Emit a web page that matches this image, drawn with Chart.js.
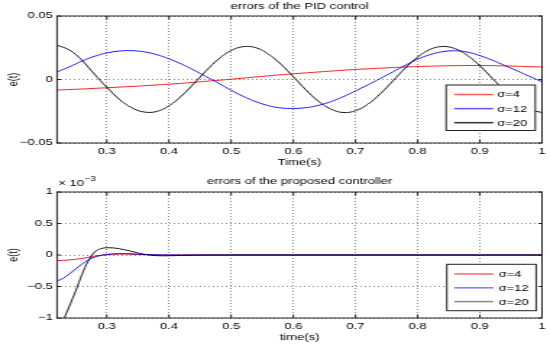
<!DOCTYPE html>
<html><head><meta charset="utf-8">
<script src="https://cdn.jsdelivr.net/npm/chart.js@4/dist/chart.umd.min.js"></script>
<style>
html,body{margin:0;padding:0;background:#fff;width:550px;height:346px;overflow:hidden}
canvas{position:absolute;left:0}
</style></head><body>
<canvas id="c1" width="380" height="173" style="width:550px;height:173px;top:0px"></canvas>
<canvas id="c2" width="380" height="173" style="width:550px;height:173px;top:173px"></canvas>
<script>
// ---------- data ----------
const timeTop = [0.22,0.24,0.26,0.28,0.30,0.32,0.34,0.36,0.38,0.40,0.42,0.44,0.46,0.48,0.50,0.52,0.54,0.56,0.58,0.60,
                 0.62,0.64,0.66,0.68,0.70,0.72,0.74,0.76,0.78,0.80,0.82,0.84,0.86,0.88,0.90,0.92,0.94,0.96,0.98,1.00];
const pidSigma4 = [-0.0083,-0.0079,-0.0075,-0.0070,-0.0065,-0.0060,-0.0055,-0.0049,-0.0043,-0.0037,-0.0030,-0.0022,-0.0014,-0.0006,0.0002,
                   0.0011,0.0020,0.0029,0.0037,0.0045,0.0052,0.0059,0.0066,0.0073,0.0079,0.0084,0.0089,0.0094,0.0098,0.0102,
                   0.0105,0.0107,0.0109,0.0110,0.0110,0.0109,0.0107,0.0104,0.0101,0.0099];
const pidSigma12 = [0.0060,0.0100,0.0145,0.0182,0.0209,0.0224,0.0227,0.0218,0.0196,0.0163,0.0122,0.0074,0.0022,-0.0030,-0.0085,
                    -0.0134,-0.0175,-0.0206,-0.0224,-0.0228,-0.0222,-0.0204,-0.0175,-0.0136,-0.0090,-0.0042,0.0008,0.0060,0.0112,0.0160,
                    0.0196,0.0219,0.0226,0.0216,0.0188,0.0152,0.0110,0.0068,0.0024,-0.0018];
const pidSigma20 = [0.0270,0.0232,0.0152,0.0042,-0.0060,-0.0155,-0.0222,-0.0256,-0.0252,-0.0207,-0.0130,-0.0033,0.0070,0.0162,0.0228,
                    0.0259,0.0250,0.0200,0.0120,0.0022,-0.0080,-0.0170,-0.0232,-0.0260,-0.0246,-0.0194,-0.0112,-0.0012,0.0090,0.0177,
                    0.0237,0.0260,0.0243,0.0190,0.0108,0.0010,-0.0090,-0.0176,-0.0236,-0.0260];

const timeBottom = [0.22,0.23,0.24,0.25,0.26,0.27,0.28,0.29,0.30,0.31,0.32,0.33,0.34,0.35,0.36,0.37,0.38,0.39,0.40,0.42,0.45,0.50,0.60,0.70,0.80,0.90,1.00];
// values in units of 1e-3
const propSigma4 = [-0.090,-0.085,-0.078,-0.068,-0.055,-0.038,-0.018,-0.003,0.007,0.012,0.014,0.014,0.012,0.009,0.006,0.003,0.001,0,0,0,0,0,0,0,0,0,0];
const propSigma12 = [-0.410,-0.370,-0.300,-0.220,-0.145,-0.080,-0.035,-0.008,0.008,0.018,0.022,0.022,0.019,0.013,0.008,0.004,0.002,0.001,0,0,0,0,0,0,0,0,0];
const propSigma20 = [-1.270,-1.040,-0.810,-0.570,-0.310,-0.100,0.045,0.098,0.116,0.113,0.100,0.080,0.058,0.033,0.012,-0.002,-0.010,-0.013,-0.012,-0.007,-0.002,0,0,0,0,0,0];

const xTicks = [0.3,0.4,0.5,0.6,0.7,0.8,0.9,1];
const yTicksTop = [-0.05,0,0.05];
const yTicksBottom = [-1,-0.5,0,0.5,1];
const seriesLabels = ['σ=4','σ=12','σ=20'];
const chartTitles = ['errors of the PID control','errors of the proposed controller'];
const xTitles = ['Time(s)','time(s)'];
const yTitle = 'e(t)';
const exponentText = ['× 10', '−3'];

// ---------- styling ----------
const FONT = "'Liberation Sans', Arial, Helvetica, sans-serif";
Chart.defaults.font.family = FONT;
Chart.defaults.font.size = 9;
Chart.defaults.color = '#000';
const lineColors = ['#ff0000','#0000ff','#000000'];
const gridColor = 'rgba(0,0,0,0.45)';
const fmt = v => String(v).replace('-', '−');

const framePlugin = {
  id: 'frame',
  afterDatasetsDraw(chart) {
    const {ctx, chartArea: a, scales} = chart;
    ctx.save();
    ctx.strokeStyle = '#222';
    ctx.lineWidth = 1;
    ctx.setLineDash([]);
    ctx.strokeRect(a.left, a.top, a.right - a.left, a.bottom - a.top);
    ctx.beginPath();
    scales.x.ticks.forEach(t => {
      const x = scales.x.getPixelForValue(t.value);
      ctx.moveTo(x, a.bottom); ctx.lineTo(x, a.bottom - 3.5);
      ctx.moveTo(x, a.top); ctx.lineTo(x, a.top + 3.5);
    });
    scales.y.ticks.forEach(t => {
      const y = scales.y.getPixelForValue(t.value);
      ctx.moveTo(a.left, y); ctx.lineTo(a.left + 2.6, y);
      ctx.moveTo(a.right, y); ctx.lineTo(a.right - 2.6, y);
    });
    ctx.stroke();
    ctx.restore();
  }
};

const boxLegendPlugin = {
  id: 'boxLegend',
  afterDraw(chart, args, o) {
    const ctx = chart.ctx;
    ctx.save();
    ctx.fillStyle = '#fff';
    ctx.fillRect(o.x, o.y, o.w, o.h);
    ctx.strokeStyle = '#222';
    ctx.lineWidth = 1;
    ctx.strokeRect(o.x, o.y, o.w, o.h);
    chart.data.datasets.forEach((ds, i) => {
      const y = o.y + o.first + i * o.gap;
      ctx.strokeStyle = o.colors[i];
      ctx.lineWidth = 1.5;
      ctx.beginPath();
      ctx.moveTo(o.x + o.l1, y);
      ctx.lineTo(o.x + o.l2, y);
      ctx.stroke();
      ctx.fillStyle = '#000';
      ctx.font = '9px ' + FONT;
      ctx.textBaseline = 'middle';
      ctx.textAlign = 'left';
      ctx.fillText(ds.label, o.x + o.tx, y + 0.5);
    });
    ctx.restore();
  }
};

const exponentPlugin = {
  id: 'exponent',
  afterDraw(chart, args, o) {
    if (!o || !o.show) return;
    const {ctx, chartArea: a} = chart;
    ctx.save();
    ctx.fillStyle = '#000';
    ctx.textBaseline = 'middle';
    ctx.textAlign = 'left';
    ctx.font = '9px ' + FONT;
    ctx.fillText(exponentText[0], a.left + 0.8, a.top - 8);
    const w = ctx.measureText(exponentText[0]).width;
    ctx.font = '7px ' + FONT;
    ctx.fillText(exponentText[1], a.left + 0.8 + w + 0.3, a.top - 13);
    ctx.restore();
  }
};

function makeChart(id, c) {
  const series = c.series;
  return new Chart(document.getElementById(id), {
    type: 'line',
    data: {
      datasets: series.map((s, i) => ({
        label: seriesLabels[i],
        data: c.t.map((t, j) => ({x: t, y: s[j]})),
        borderColor: lineColors[i],
        borderWidth: 0.9,
        pointRadius: 0,
        fill: false,
        tension: c.tension,
        cubicInterpolationMode: c.mode,
        order: 3 - i
      }))
    },
    options: {
      responsive: false,
      animation: false,
      devicePixelRatio: 1,
      events: [],
      layout: {padding: {top: 0, right: 3.4, left: 0, bottom: 0}},
      plugins: {
        legend: {display: false},
        tooltip: {enabled: false},
        title: {display: true, text: c.title, fullSize: false, color: '#000',
                font: {size: 9, weight: 'normal'}, padding: c.titlePad},
        boxLegend: c.legend,
        exponent: {show: c.exp}
      },
      scales: {
        x: {
          type: 'linear', min: 0.22, max: 1,
          afterBuildTicks: s => { s.ticks = xTicks.map(v => ({value: v})); },
          afterFit: s => { s.height = c.xh; },
          ticks: {padding: 3, maxRotation: 0, autoSkip: false, callback: v => fmt(v)},
          grid: {color: gridColor, lineWidth: 1, drawTicks: false},
          border: {display: false, dash: [1, 2]},
          title: {display: true, text: c.xTitle, font: {size: 9}, padding: {top: c.xtp, bottom: c.xtp}}
        },
        y: {
          type: 'linear', min: c.ymin, max: c.ymax,
          afterBuildTicks: s => { s.ticks = c.yTicks.map(v => ({value: v})); },
          afterFit: s => { s.width = 39.4; },
          ticks: {padding: 3, autoSkip: false, callback: v => fmt(v)},
          grid: {color: gridColor, lineWidth: 1, drawTicks: false},
          border: {display: false, dash: [1, 2]},
          title: {display: true, text: yTitle, font: {size: 9}, padding: {top: 4.5, bottom: 4.5}}
        }
      }
    },
    plugins: [framePlugin, boxLegendPlugin, exponentPlugin]
  });
}

makeChart('c1', {
  t: timeTop, series: [pidSigma4, pidSigma12, pidSigma20],
  tension: 0.4, mode: 'default',
  title: chartTitles[0], titlePad: {top: 1.6, bottom: 3.6},
  xTitle: xTitles[0], xh: 30, xtp: 5.1,
  ymin: -0.05, ymax: 0.05, yTicks: yTicksTop, exp: false,
  legend: {x: 308.2, y: 85, w: 61.6, h: 45.5, first: 9.5, gap: 14.1, l1: 5.6, l2: 32.6, tx: 35.3,
           colors: ['#ff5a5a', '#5a5aff', '#333333']}
});

makeChart('c2', {
  t: timeBottom, series: [propSigma4, propSigma12, propSigma20],
  tension: 0.4, mode: 'monotone',
  title: chartTitles[1], titlePad: {top: 2.9, bottom: 5.3},
  xTitle: xTitles[1], xh: 28, xtp: 3.1,
  ymin: -1, ymax: 1, yTicks: yTicksBottom, exp: true,
  legend: {x: 308.7, y: 91.3, w: 61.7, h: 46.4, first: 9.7, gap: 13.8, l1: 5.2, l2: 32.2, tx: 35.8,
           colors: ['#ff6a6a', '#7a7aff', '#8a8a8a']}
});
</script>
</body></html>
